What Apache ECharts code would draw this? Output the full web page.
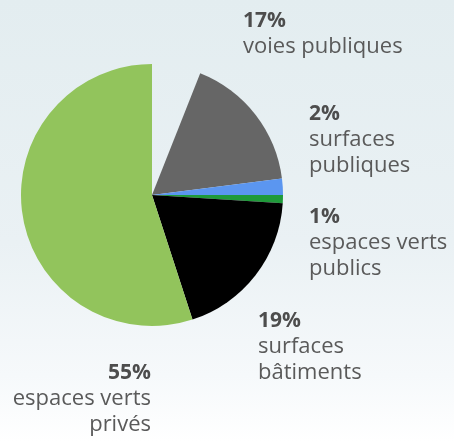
<!DOCTYPE html>
<html>
<head>
<meta charset="utf-8">
<script src="https://cdn.jsdelivr.net/npm/echarts@6/dist/echarts.min.js"></script>
<style>
html,body{margin:0;padding:0;}
#chart{width:454px;height:442px;}
</style>
</head>
<body>
<div id="chart"></div>
<script>
// Data (clockwise from 12 o'clock); the first slice is an unlabeled, invisible remainder
const categories = ['', 'voies publiques', 'surfaces\npubliques', 'espaces verts\npublics', 'surfaces\nbâtiments', 'espaces verts\nprivés'];
const values = [6, 17, 2, 1, 19, 55];
const percentLabels = ['', '17%', '2%', '1%', '19%', '55%'];
const colors = ['rgba(0,0,0,0)', '#666666', '#5b96f0', '#1f9a3a', '#000000', '#92c45c'];

// label anchor placement (x, y center, alignment) per slice
const labelPlace = [
  null,
  {x: 243, y: 34, align: 'left'},
  {x: 309, y: 140, align: 'left'},
  {x: 309, y: 243, align: 'left'},
  {x: 258, y: 347, align: 'left'},
  {x: 151, y: 399, align: 'right'}
];

const chart = echarts.init(document.getElementById('chart'));
const data = values.map((v, i) => ({
  value: v,
  name: categories[i],
  itemStyle: {color: colors[i]},
  label: {show: i !== 0, align: i === 5 ? 'right' : 'left'},
  emphasis: {disabled: true}
}));

chart.setOption({
  backgroundColor: new echarts.graphic.LinearGradient(0, 0, 0, 1, [
    {offset: 0, color: '#e3edf0'},
    {offset: 0.55, color: '#eaf1f4'},
    {offset: 0.85, color: '#f6f9fb'},
    {offset: 1, color: '#ffffff'}
  ]),
  animation: false,
  series: [{
    type: 'pie',
    center: [152, 195],
    radius: [0, 131],
    startAngle: 90,
    clockwise: true,
    avoidLabelOverlap: false,
    data: data,
    label: {
      show: true,
      position: 'outside',
      formatter: p => '{b|' + percentLabels[p.dataIndex] + '}\n{n|' + categories[p.dataIndex].split('\n').join('}\n{n|') + '}',
      rich: {
        b: {fontFamily: 'Open Sans', fontSize: 21, fontWeight: 'bold', color: '#4d4d4d', lineHeight: 26},
        n: {fontFamily: 'Open Sans', fontSize: 22, color: '#5a5a5a', lineHeight: 26}
      }
    },
    labelLine: {show: false},
    labelLayout: function (params) {
      const p = labelPlace[params.dataIndex];
      if (!p) return {};
      return {x: p.x, y: p.y, align: p.align, verticalAlign: 'middle'};
    }
  }]
});
</script>
</body>
</html>
